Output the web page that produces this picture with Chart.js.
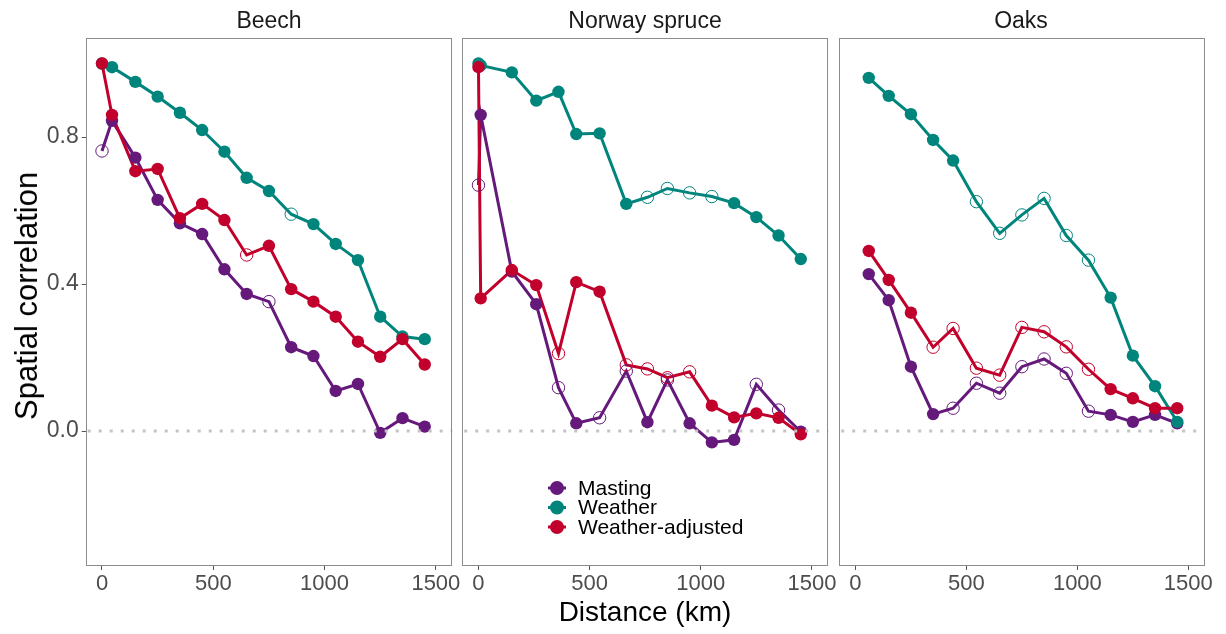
<!DOCTYPE html>
<html>
<head>
<meta charset="utf-8">
<script src="https://cdn.jsdelivr.net/npm/chart.js@4.4.1/dist/chart.umd.min.js"></script>
<style>
  html, body { margin: 0; padding: 0; background: #ffffff; }
  #wrap { position: relative; width: 1226px; height: 634px; background: #ffffff; overflow: hidden;
          font-family: "Liberation Sans", Arial, Helvetica, sans-serif; }
  canvas { position: absolute; top: 0; }
  .strip { position: absolute; top: 6px; font-size: 23px; color: #1a1a1a; transform: translateX(-50%); white-space: nowrap; line-height: 28px; }
  .xtitle { position: absolute; top: 595px; left: 645px; transform: translateX(-50%); font-size: 28px; color: #000; white-space: nowrap; line-height: 34px; }
  .ytitle { position: absolute; left: 27px; top: 296px; transform: translate(-50%, -50%) rotate(-90deg); font-size: 31px; color: #000; white-space: nowrap; line-height: 36px; }
</style>
</head>
<body>
<div id="wrap">
  <canvas id="c1" width="470" height="634" style="left:0px"></canvas>
  <canvas id="c2" width="390" height="634" style="left:455px"></canvas>
  <canvas id="c3" width="394" height="634" style="left:832px"></canvas>
  <div class="strip" style="left:269px">Beech</div>
  <div class="strip" style="left:645px">Norway spruce</div>
  <div class="strip" style="left:1021px">Oaks</div>
  <div class="xtitle">Distance (km)</div>
  <div class="ytitle">Spatial correlation</div>
</div>
<script>
// ---------------- data ----------------
const seriesNames = ["Masting", "Weather", "Weather-adjusted"];
const xTickValues = [0, 500, 1000, 1500];
const yTickValues = [0.0, 0.4, 0.8];

// Beech
const beechDist     = [0, 45, 150, 250, 350, 450, 550, 650, 750, 850, 950, 1050, 1150, 1250, 1350, 1450];
const beechMasting  = [0.762, 0.844, 0.744, 0.629, 0.565, 0.536, 0.440, 0.373, 0.352, 0.228, 0.204, 0.109, 0.128, -0.005, 0.035, 0.012];
const beechMastSig  = [0, 1, 1, 1, 1, 1, 1, 1, 0, 1, 1, 1, 1, 1, 1, 1];
const beechWeather  = [1.000, 0.990, 0.950, 0.910, 0.866, 0.819, 0.760, 0.689, 0.653, 0.590, 0.563, 0.509, 0.465, 0.311, 0.257, 0.250];
const beechWeaSig   = [1, 1, 1, 1, 1, 1, 1, 1, 1, 0, 1, 1, 1, 1, 1, 1];
const beechAdjusted = [1.000, 0.860, 0.707, 0.713, 0.579, 0.618, 0.574, 0.479, 0.504, 0.386, 0.352, 0.311, 0.243, 0.202, 0.250, 0.181];
const beechAdjSig   = [1, 1, 1, 1, 1, 1, 1, 0, 1, 1, 1, 1, 1, 1, 1, 1];

// Norway spruce
const spruceDist     = [0, 10, 150, 260, 360, 440, 545, 665, 760, 850, 950, 1050, 1150, 1250, 1350, 1450];
const spruceMasting  = [0.669, 0.860, 0.434, 0.345, 0.118, 0.021, 0.036, 0.163, 0.024, 0.139, 0.021, -0.031, -0.024, 0.127, 0.057, -0.002];
const spruceMastSig  = [0, 1, 1, 1, 0, 1, 0, 0, 1, 0, 1, 1, 1, 0, 0, 1];
const spruceWeather  = [1.000, 0.995, 0.976, 0.899, 0.923, 0.808, 0.810, 0.618, 0.636, 0.660, 0.648, 0.638, 0.620, 0.582, 0.532, 0.468];
const spruceWeaSig   = [1, 1, 1, 1, 1, 1, 1, 1, 0, 0, 0, 0, 1, 1, 1, 1];
const spruceAdjusted = [0.990, 0.361, 0.438, 0.397, 0.211, 0.405, 0.379, 0.180, 0.169, 0.145, 0.161, 0.069, 0.037, 0.048, 0.036, -0.009];
const spruceAdjSig   = [1, 1, 1, 1, 0, 1, 1, 0, 0, 0, 0, 1, 1, 1, 1, 1];

// Oaks
const oaksDist     = [60, 150, 250, 350, 440, 545, 650, 750, 850, 950, 1050, 1150, 1250, 1350, 1450];
const oaksMasting  = [0.427, 0.356, 0.175, 0.046, 0.062, 0.130, 0.103, 0.175, 0.196, 0.157, 0.054, 0.044, 0.025, 0.044, 0.021];
const oaksMastSig  = [1, 1, 1, 1, 0, 0, 0, 0, 0, 0, 0, 1, 1, 1, 1];
const oaksWeather  = [0.961, 0.912, 0.862, 0.792, 0.736, 0.624, 0.538, 0.588, 0.633, 0.532, 0.465, 0.363, 0.205, 0.122, 0.025];
const oaksWeaSig   = [1, 1, 1, 1, 1, 0, 0, 0, 0, 0, 0, 1, 1, 1, 1];
const oaksAdjusted = [0.490, 0.411, 0.322, 0.228, 0.279, 0.171, 0.152, 0.282, 0.270, 0.229, 0.168, 0.114, 0.089, 0.062, 0.062];
const oaksAdjSig   = [1, 1, 1, 0, 0, 0, 0, 0, 0, 0, 0, 1, 1, 1, 1];

// ---------------- style ----------------
const COLORS = ["#651a7b", "#00857c", "#c1002c"];
const FONT = '"Liberation Sans", Arial, Helvetica, sans-serif';
const X_MIN = -73.2, X_MAX = 1573.8;
const Y_MIN = -0.3673, Y_MAX = 1.0694;

function pts(xs, ys) { return xs.map((x, i) => ({ x: x, y: ys[i] })); }

function buildDatasets(dist, seriesList) {
  const ds = [];
  seriesList.forEach((s, k) => {
    ds.push({
      label: seriesNames[k] + " line",
      data: pts(dist, s.values),
      showLine: true,
      borderColor: COLORS[k],
      borderWidth: 3,
      pointRadius: 0,
      fill: false,
      tension: 0,
      order: 20 - k
    });
  });
  seriesList.forEach((s, k) => {
    ds.push({
      label: seriesNames[k],
      data: pts(dist, s.values),
      showLine: false,
      pointRadius: 6.2,
      pointBorderWidth: s.sig.map(v => v ? 0 : 1),
      pointBorderColor: COLORS[k],
      pointBackgroundColor: s.sig.map(v => v ? COLORS[k] : "rgba(0,0,0,0)"),
      order: 10 - k
    });
  });
  return ds;
}

const panelBorder = {
  id: "panelBorder",
  afterDatasetsDraw(chart) {
    const a = chart.chartArea, ctx = chart.ctx;
    const ys = chart.scales.y;
    const y0 = Math.round(ys.getPixelForValue(0));
    ctx.save();
    ctx.strokeStyle = "#c4c4c4";
    ctx.lineWidth = 3;
    ctx.setLineDash([3, 8]);
    ctx.beginPath();
    ctx.moveTo(a.left + 2, y0);
    ctx.lineTo(a.right, y0);
    ctx.stroke();
    ctx.restore();
    ctx.save();
    ctx.strokeStyle = "#8c8c8c";
    ctx.lineWidth = 1;
    ctx.strokeRect(Math.round(a.left) + 0.5, Math.round(a.top) + 0.5,
                   Math.round(a.right) - Math.round(a.left) - 1, Math.round(a.bottom) - Math.round(a.top) - 1);
    ctx.restore();
  }
};

const legendPlugin = {
  id: "innerLegend",
  afterDraw(chart) {
    const o = chart.options.plugins.innerLegend;
    if (!o || !o.show) return;
    const ctx = chart.ctx;
    ctx.save();
    seriesNames.forEach((name, k) => {
      const y = o.y + k * o.step;
      ctx.strokeStyle = COLORS[k];
      ctx.lineWidth = 3;
      ctx.beginPath();
      ctx.moveTo(o.x - 9, y);
      ctx.lineTo(o.x + 9, y);
      ctx.stroke();
      ctx.fillStyle = COLORS[k];
      ctx.beginPath();
      ctx.arc(o.x, y, 7, 0, Math.PI * 2);
      ctx.fill();
      ctx.fillStyle = "#000000";
      ctx.font = "21px " + FONT;
      ctx.textBaseline = "middle";
      ctx.textAlign = "left";
      ctx.fillText(name, o.x + 21, y + 1);
    });
    ctx.restore();
  }
};

function makeChart(id, dist, seriesList, opts) {
  const ctx = document.getElementById(id);
  return new Chart(ctx, {
    type: "scatter",
    data: { datasets: buildDatasets(dist, seriesList) },
    plugins: [panelBorder, legendPlugin],
    options: {
      responsive: false,
      animation: false,
      devicePixelRatio: 1,
      events: [],
      layout: { padding: { left: opts.padLeft, right: opts.padRight, top: 38, bottom: 0 } },
      plugins: {
        legend: { display: false },
        tooltip: { enabled: false },
        innerLegend: opts.legend || { show: false }
      },
      scales: {
        x: {
          type: "linear",
          min: X_MIN, max: X_MAX,
          afterBuildTicks: s => { s.ticks = xTickValues.map(v => ({ value: v })); },
          afterFit: s => { s.height = 68; s.paddingLeft = 0; s.paddingRight = 0; },
          ticks: {
            color: "#4d4d4d",
            font: { family: FONT, size: 22 },
            padding: 1,
            maxRotation: 0,
            autoSkip: false,
            callback: v => String(v)
          },
          grid: { display: true, drawOnChartArea: false, drawTicks: true, tickLength: 4, color: "#555555", tickColor: "#555555" },
          border: { display: false }
        },
        y: {
          type: "linear",
          display: opts.showY,
          min: Y_MIN, max: Y_MAX,
          afterBuildTicks: s => { s.ticks = yTickValues.map(v => ({ value: v })); },
          afterFit: s => { s.width = opts.yWidth; s.paddingTop = 0; s.paddingBottom = 0; },
          ticks: {
            color: "#4d4d4d",
            font: { family: FONT, size: 23 },
            padding: 3,
            autoSkip: false,
            callback: v => Number(v).toFixed(1)
          },
          grid: { display: true, drawOnChartArea: false, drawTicks: true, tickLength: 4, color: "#555555", tickColor: "#555555" },
          border: { display: false }
        }
      }
    }
  });
}

makeChart("c1", beechDist, [
  { values: beechMasting, sig: beechMastSig },
  { values: beechWeather, sig: beechWeaSig },
  { values: beechAdjusted, sig: beechAdjSig }
], { padLeft: 0, padRight: 470 - 452.3, showY: true, yWidth: 85.7 });

makeChart("c2", spruceDist, [
  { values: spruceMasting, sig: spruceMastSig },
  { values: spruceWeather, sig: spruceWeaSig },
  { values: spruceAdjusted, sig: spruceAdjSig }
], { padLeft: 461.7 - 455, padRight: 845 - 828.3, showY: false, yWidth: 0,
     legend: { show: true, x: 557 - 455, y: 488, step: 19.5 } });

makeChart("c3", oaksDist, [
  { values: oaksMasting, sig: oaksMastSig },
  { values: oaksWeather, sig: oaksWeaSig },
  { values: oaksAdjusted, sig: oaksAdjSig }
], { padLeft: 838 - 832, padRight: 1226 - 1204.7, showY: false, yWidth: 0 });
</script>
</body>
</html>
